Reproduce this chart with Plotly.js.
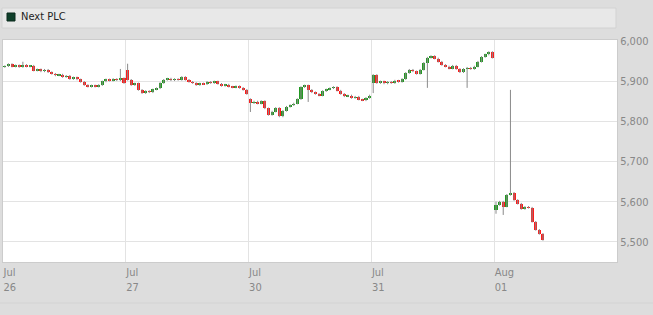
<!DOCTYPE html>
<html>
<head>
<meta charset="utf-8">
<script src="https://cdn.plot.ly/plotly-3.0.1.min.js"></script>
<style>
html,body{margin:0;padding:0;background:#dddddd;}
#chart{width:653px;height:315px;}
</style>
</head>
<body>
<div id="chart"></div>
<script>
// Trading days shown
const days = ["2018-07-26", "2018-07-27", "2018-07-30", "2018-07-31", "2018-08-01"];
const tickLabels = ["Jul<br>26", "Jul<br>27", "Jul<br>30", "Jul<br>31", "Aug<br>01"];
const yTicks = [5500, 5600, 5700, 5800, 5900, 6000];

// First open of each day
const dayOpens = [5935, 5928, 5855, 5895, 5580];

// 15-minute closes, per day
const close0726 = [5937, 5942, 5936, 5939, 5935, 5940, 5936, 5938, 5926, 5929, 5924, 5928, 5922, 5918, 5914, 5916, 5910, 5913, 5905, 5909, 5904, 5898, 5890, 5886, 5889, 5886, 5890, 5899, 5904, 5901, 5905, 5902, 5907, 5895];
const close0727 = [5903, 5890, 5894, 5878, 5870, 5875, 5872, 5879, 5882, 5895, 5903, 5906, 5902, 5905, 5903, 5910, 5903, 5898, 5895, 5890, 5894, 5892, 5898, 5895, 5899, 5893, 5888, 5891, 5886, 5884, 5887, 5883, 5878, 5868];
const close0730 = [5845, 5849, 5844, 5850, 5832, 5816, 5824, 5833, 5812, 5826, 5836, 5840, 5844, 5855, 5885, 5889, 5878, 5872, 5868, 5864, 5875, 5879, 5882, 5885, 5876, 5868, 5862, 5864, 5858, 5861, 5854, 5852, 5858, 5864];
const close0731 = [5915, 5895, 5899, 5894, 5898, 5895, 5901, 5898, 5905, 5920, 5928, 5924, 5918, 5928, 5945, 5958, 5962, 5956, 5948, 5940, 5936, 5931, 5938, 5930, 5922, 5930, 5933, 5930, 5936, 5948, 5960, 5966, 5972, 5958];
const close0801 = [5592, 5600, 5588, 5617, 5622, 5604, 5595, 5582, 5587, 5585, 5550, 5530, 5520, 5505];
const closes = [close0726, close0727, close0730, close0731, close0801];

// Wick extremes: [day, bar, high, low]
const wickExtremes = [
  [0, 5, 5948, null], [0, 32, 5930, null],
  [1, 0, 5943, null],
  [2, 0, null, 5823], [2, 16, null, 5848],
  [3, 0, null, 5870], [3, 15, null, 5883], [3, 26, null, 5883],
  [4, 0, 5600, 5570], [4, 2, null, 5567], [4, 4, 5878, null]
];

function pad(n){return (n<10?'0':'')+n;}
function barTime(day, i){
  const mins = 8*60 + 15*i + 7.5;
  const h = Math.floor(mins/60), m = Math.floor(mins%60), s = (mins%1)*60;
  return day + ' ' + pad(h) + ':' + pad(m) + ':' + pad(s);
}

const X=[], O=[], H=[], L=[], C=[];
closes.forEach((arr, d) => {
  arr.forEach((c, i) => {
    const o = i === 0 ? dayOpens[d] : arr[i-1];
    let h = Math.max(o, c) + 2, l = Math.min(o, c) - 2;
    wickExtremes.forEach(w => {
      if (w[0] === d && w[1] === i) { if (w[2] !== null) h = w[2]; if (w[3] !== null) l = w[3]; }
    });
    X.push(barTime(days[d], i)); O.push(o); H.push(h); L.push(l); C.push(c);
  });
});

// wick segments
const wx=[], wy=[];
X.forEach((t, k) => { wx.push(t, t, null); wy.push(L[k], H[k], null); });

// bodies
const base=[], height=[], cols=[];
X.forEach((t, k) => {
  const lo = Math.min(O[k], C[k]), hi = Math.max(O[k], C[k]);
  let hgt = hi - lo, b = lo;
  if (hgt < 4) { b = (lo + hi)/2 - 2; hgt = 4; }
  base.push(b); height.push(hgt);
  cols.push(C[k] > O[k] ? '#229922' : (C[k] < O[k] ? '#ff1a1a' : '#222222'));
});

const traces = [
  {type:'scatter', mode:'lines', x:wx, y:wy, line:{color:'#8a8a8a', width:1}, hoverinfo:'skip', showlegend:false},
  {type:'bar', x:X, y:height, base:base, width:760000, marker:{color:cols, line:{width:0}}, hoverinfo:'skip', showlegend:false}
];

const tickVals = days.map(d => d + ' 08:00');
const FONT = '"Liberation Sans Narrow", "DejaVu Sans Condensed", "Liberation Sans", sans-serif';

const layout = {
  width:653, height:315,
  margin:{l:3, r:36, t:40, b:53},
  paper_bgcolor:'#dddddd', plot_bgcolor:'#ffffff',
  font:{family:FONT, size:11, color:'#888888'},
  showlegend:false,
  bargap:0,
  xaxis:{
    type:'date',
    range:['2018-07-26 08:00', '2018-08-01 16:30'],
    rangebreaks:[{bounds:['sat','mon']}, {pattern:'hour', bounds:[16.5, 8]}],
    tickmode:'array', tickvals:tickVals, ticktext:tickLabels,
    ticklabelposition:'outside right',
    showgrid:true, gridcolor:'#e3e3e3', gridwidth:1,
    showline:true, linecolor:'#cccccc', mirror:true,
    ticks:'', zeroline:false, fixedrange:true,
    tickfont:{family:FONT, size:11, color:'#888888'}
  },
  yaxis:{
    side:'right',
    range:[5450, 6002],
    tickmode:'array', tickvals:yTicks, tickformat:',d',
    showgrid:true, gridcolor:'#e3e3e3', gridwidth:1,
    showline:true, linecolor:'#cccccc', mirror:true,
    ticks:'', zeroline:false, fixedrange:true,
    tickfont:{family:FONT, size:11, color:'#888888'}
  },
  shapes:[
    {type:'rect', xref:'paper', yref:'paper', x0:-0.0016, x1:0.9984, y0:(262-28)/222, y1:(262-8)/222,
     fillcolor:'#e8e8e8', line:{color:'#d2d2d2', width:1}, layer:'below'},
    {type:'rect', xref:'paper', yref:'paper', x0:(7-3)/614, x1:(15-3)/614, y0:(262-21)/222, y1:(262-13)/222,
     fillcolor:'#0f3f2a', line:{color:'#0a2a1c', width:1}},
    {type:'line', xref:'paper', yref:'paper', x0:-0.005, x1:1.06, y0:(262-303)/222, y1:(262-303)/222,
     line:{color:'#d3d3d3', width:1}}
  ],
  annotations:[
    {xref:'paper', yref:'paper', x:(19-3)/614, y:(262-17)/222, xanchor:'left', yanchor:'middle',
     text:'Next PLC', showarrow:false, font:{family:FONT, size:11, color:'#222222'}}
  ]
};

Plotly.newPlot('chart', traces, layout, {displayModeBar:false, staticPlot:true});
</script>
</body>
</html>
